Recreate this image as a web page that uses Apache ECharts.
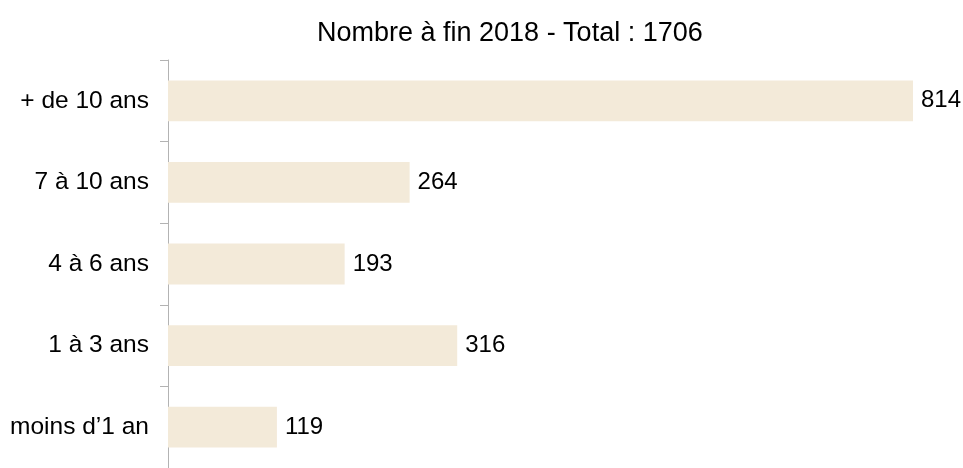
<!DOCTYPE html>
<html><head><meta charset="utf-8">
<script src="https://cdn.jsdelivr.net/npm/echarts@6/dist/echarts.min.js"></script>
<style>html,body{margin:0;padding:0;background:#fff}#c{width:963px;height:468px}</style>
</head><body><div id="c"></div>
<script>
const categories = ["+ de 10 ans", "7 à 10 ans", "4 à 6 ans", "1 à 3 ans", "moins d’1 an"];
const values = [814, 264, 193, 316, 119];
const titleText = "Nombre à fin 2018 - Total : 1706";

const chart = echarts.init(document.getElementById('c'), null, {renderer: 'canvas'});
chart.setOption({
  animation: false,
  backgroundColor: '#ffffff',
  textStyle: {fontFamily: 'Liberation Sans'},
  title: {
    text: titleText, left: 312, top: 15,
    textStyle: {fontFamily: 'Liberation Sans', fontSize: 27, fontWeight: 'normal', color: '#000'}
  },
  grid: {left: 168, right: 50, top: 60, bottom: -6, containLabel: false},
  xAxis: {type: 'value', min: 0, max: 814, show: false},
  yAxis: {
    type: 'category', data: categories, inverse: true,
    axisLine: {show: true, lineStyle: {color: '#b3b3b3', width: 1}},
    axisTick: {show: true, length: 8, lineStyle: {color: '#b3b3b3'}},
    axisLabel: {fontFamily: 'Liberation Sans', fontSize: 24.5, color: '#000', margin: 19}
  },
  series: [{
    type: 'bar', data: values, barWidth: '50%',
    itemStyle: {color: '#F3EAD9'},
    label: {show: true, position: 'right', distance: 8, fontFamily: 'Liberation Sans', fontSize: 24, color: '#000'}
  }]
});
</script></body></html>
